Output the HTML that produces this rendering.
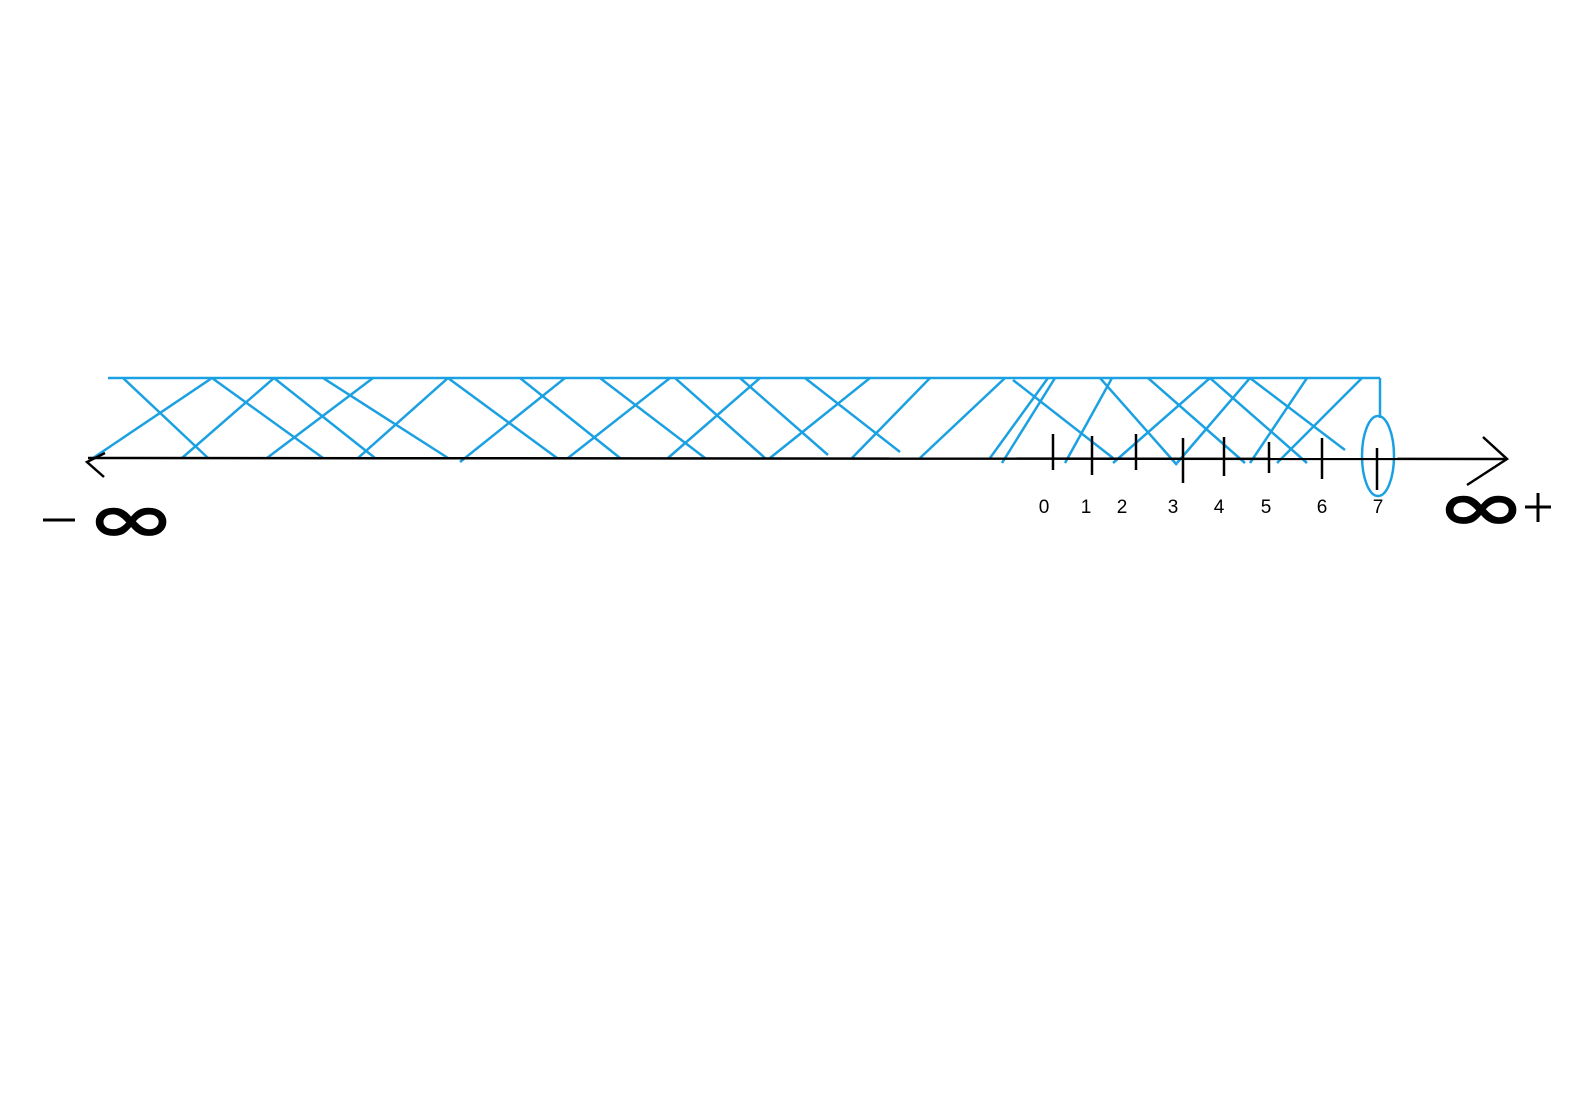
<!DOCTYPE html>
<html><head><style>body{margin:0;background:#fff;width:1587px;height:1110px;overflow:hidden}</style></head><body>
<svg width="1587" height="1110" xmlns="http://www.w3.org/2000/svg">
<g stroke="#1ba1e2" stroke-width="2.5" fill="none">
<line x1="108" y1="378" x2="1380" y2="378"/>
<line x1="123" y1="378" x2="208" y2="458"/>
<line x1="212" y1="378" x2="93" y2="458"/>
<line x1="212" y1="378" x2="323" y2="458"/>
<line x1="274" y1="378" x2="182" y2="458"/>
<line x1="274" y1="378" x2="375" y2="458"/>
<line x1="323" y1="378" x2="448" y2="458"/>
<line x1="373" y1="378" x2="267" y2="458"/>
<line x1="448" y1="378" x2="358" y2="458"/>
<line x1="448" y1="378" x2="557" y2="458"/>
<line x1="520" y1="378" x2="620" y2="458"/>
<line x1="565" y1="378" x2="460" y2="462"/>
<line x1="600" y1="378" x2="705" y2="458"/>
<line x1="670" y1="378" x2="568" y2="458"/>
<line x1="675" y1="378" x2="765" y2="458"/>
<line x1="740" y1="378" x2="828" y2="455"/>
<line x1="760" y1="378" x2="668" y2="458"/>
<line x1="805" y1="378" x2="900" y2="452"/>
<line x1="870" y1="378" x2="770" y2="458"/>
<line x1="930" y1="378" x2="852" y2="458"/>
<line x1="1005" y1="378" x2="920" y2="458"/>
<line x1="1048" y1="378" x2="990" y2="458"/>
<line x1="1013" y1="380" x2="1113" y2="458"/>
<line x1="1055" y1="378" x2="1002" y2="463"/>
<line x1="1112" y1="378" x2="1065" y2="463"/>
<line x1="1100" y1="378" x2="1177" y2="465"/>
<line x1="1210" y1="378" x2="1113" y2="463"/>
<line x1="1148" y1="378" x2="1245" y2="463"/>
<line x1="1250" y1="378" x2="1177" y2="463"/>
<line x1="1210" y1="378" x2="1307" y2="463"/>
<line x1="1307" y1="378" x2="1250" y2="463"/>
<line x1="1362" y1="378" x2="1277" y2="463"/>
<line x1="1250" y1="378" x2="1345" y2="450"/>
<line x1="1380" y1="378" x2="1380" y2="418"/>
<ellipse cx="1378" cy="456" rx="16" ry="40"/>
</g>
<g stroke="#000" stroke-width="2.5" fill="none">
<line x1="88" y1="458" x2="1507" y2="459"/>
<polyline points="105,453 87,462 104,477"/>
<polyline points="1483,437 1507,459 1467,485"/>
<line x1="1053" y1="434" x2="1053" y2="470"/>
<line x1="1092" y1="436" x2="1092" y2="475"/>
<line x1="1136" y1="434" x2="1136" y2="470"/>
<line x1="1183" y1="438" x2="1183" y2="483"/>
<line x1="1224" y1="437" x2="1224" y2="476"/>
<line x1="1269" y1="442" x2="1269" y2="473"/>
<line x1="1322" y1="438" x2="1322" y2="479"/>
<line x1="1377" y1="448" x2="1377" y2="490"/>
</g>
<g font-family="Liberation Sans, sans-serif" font-size="19" fill="#000" text-anchor="middle">
<text x="1044" y="513">0</text><text x="1086" y="513">1</text><text x="1122" y="513">2</text>
<text x="1173" y="513">3</text><text x="1219" y="513">4</text><text x="1266" y="513">5</text>
<text x="1322" y="513">6</text><text x="1378" y="513">7</text>
</g>
<line x1="43" y1="520" x2="75" y2="520" stroke="#000" stroke-width="3"/>
<text transform="translate(131,542) scale(1.6,1)" font-family="DejaVu Sans, sans-serif" font-size="68" font-weight="bold" text-anchor="middle">∞</text>
<text transform="translate(1481,530) scale(1.6,1)" font-family="DejaVu Sans, sans-serif" font-size="68" font-weight="bold" text-anchor="middle">∞</text>
<g stroke="#000" stroke-width="3"><line x1="1525" y1="507" x2="1551" y2="507"/><line x1="1538" y1="493" x2="1538" y2="522"/></g>
</svg>
</body></html>
